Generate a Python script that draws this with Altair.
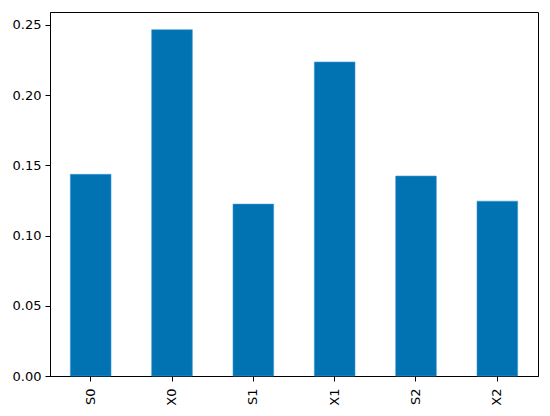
import altair as alt
import pandas as pd

categories = ["S0", "X0", "S1", "X1", "S2", "X2"]
values = [0.1436, 0.2466, 0.1224, 0.2236, 0.1424, 0.1245]
y_ticks = [0.0, 0.05, 0.10, 0.15, 0.20, 0.25]

df = pd.DataFrame({"cat": categories, "val": values})

chart = alt.Chart(df).mark_bar(color="#0173b2", stroke="#3a9ad6", strokeWidth=0.6).encode(
    x=alt.X("cat:N", sort=categories, title=None,
            scale=alt.Scale(paddingInner=0.5, paddingOuter=0.25),
            axis=alt.Axis(labelAngle=-90, labelFontSize=13, labelFont="DejaVu Sans",
                          labelColor="black", tickColor="black", domainColor="black",
                          tickSize=5, labelPadding=7, domainWidth=1)),
    y=alt.Y("val:Q", title=None,
            scale=alt.Scale(domain=[0, 0.2592], nice=False, zero=True),
            axis=alt.Axis(values=y_ticks, format=".2f", grid=False, labelFontSize=13,
                          labelFont="DejaVu Sans", labelColor="black", tickColor="black",
                          domainColor="black", tickSize=5, labelPadding=4, domainWidth=1)),
).properties(
    width=488, height=364,
    autosize=alt.AutoSizeParams(type="none"),
    padding={"left": 42, "top": 4, "right": 4, "bottom": 40},
).configure_view(stroke="black", strokeWidth=1)

chart.save("out.html", embed_options={"renderer": "svg", "actions": False})
